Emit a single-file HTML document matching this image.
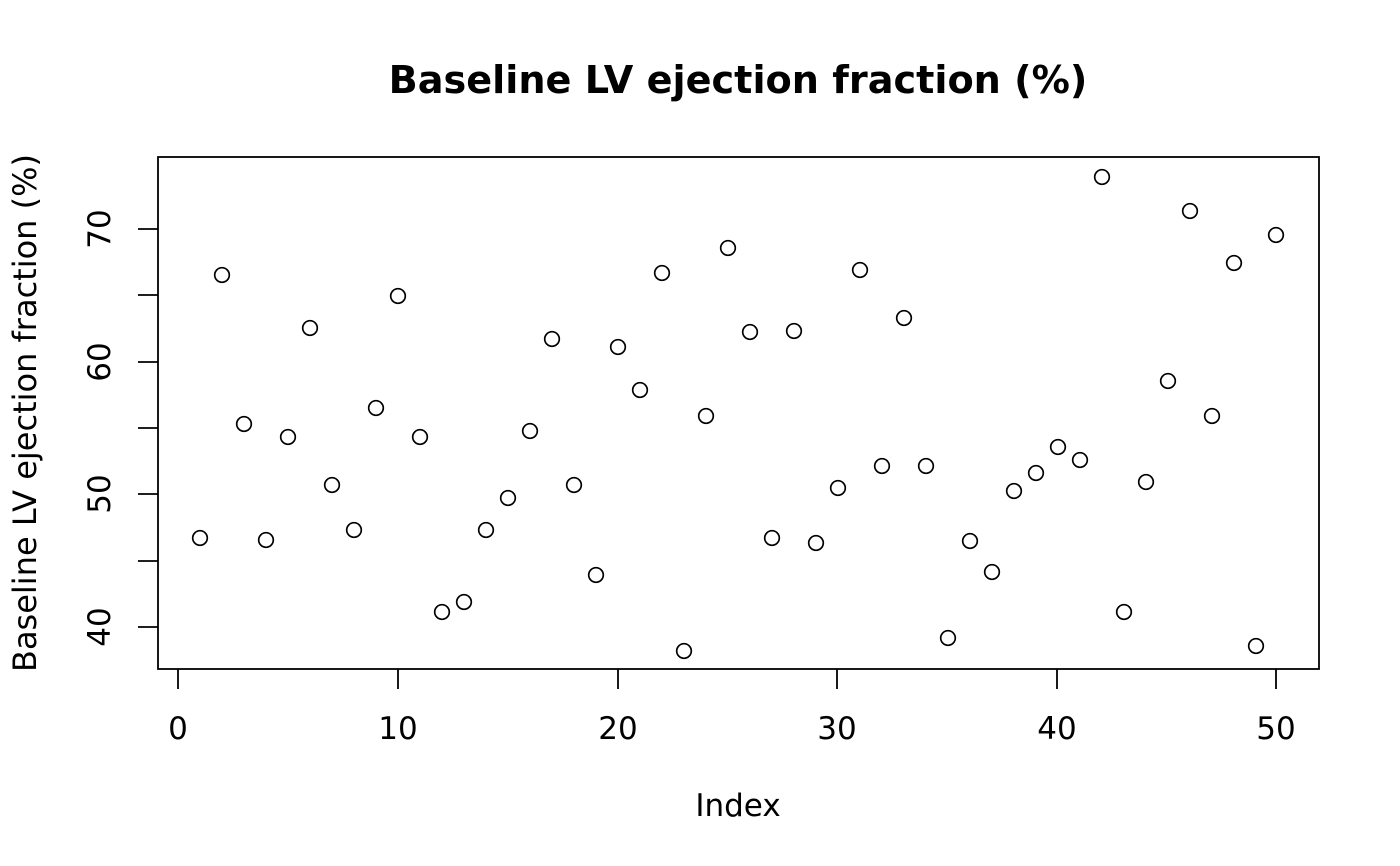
<!DOCTYPE html>
<html><head><meta charset="utf-8"><style>body{margin:0;background:#fff}svg{display:block}</style></head><body>
<svg width="1400" height="866" xmlns="http://www.w3.org/2000/svg" font-family="DejaVu Sans, Liberation Sans, sans-serif">
<rect width="1400" height="866" fill="#fff"/>
<text x="738" y="93" font-size="38.2" font-weight="bold" text-anchor="middle">Baseline LV ejection fraction (%)</text>
<rect x="158" y="157" width="1161" height="512" fill="none" stroke="#000" stroke-width="1.8"/>
<g stroke="#000" stroke-width="1.8">
<line x1="178" y1="669" x2="178" y2="689"/><line x1="398" y1="669" x2="398" y2="689"/><line x1="618" y1="669" x2="618" y2="689"/><line x1="837" y1="669" x2="837" y2="689"/><line x1="1057" y1="669" x2="1057" y2="689"/><line x1="1276" y1="669" x2="1276" y2="689"/>
<line x1="138" y1="627" x2="158" y2="627"/><line x1="138" y1="561" x2="158" y2="561"/><line x1="138" y1="494" x2="158" y2="494"/><line x1="138" y1="428" x2="158" y2="428"/><line x1="138" y1="362" x2="158" y2="362"/><line x1="138" y1="295" x2="158" y2="295"/><line x1="138" y1="229" x2="158" y2="229"/>
</g>
<g font-size="31" text-anchor="middle">
<text x="178" y="739">0</text><text x="398" y="739">10</text><text x="618" y="739">20</text><text x="837" y="739">30</text><text x="1057" y="739">40</text><text x="1276" y="739">50</text>
<text transform="translate(110,627) rotate(-90)">40</text>
<text transform="translate(110,494) rotate(-90)">50</text>
<text transform="translate(110,362) rotate(-90)">60</text>
<text transform="translate(110,229) rotate(-90)">70</text>
<text x="738" y="816">Index</text>
<text transform="translate(36,413) rotate(-90)" font-size="32">Baseline LV ejection fraction (%)</text>
</g>
<g fill="none" stroke="#000" stroke-width="1.7">
<circle cx="200" cy="538" r="7.3"/><circle cx="222" cy="275" r="7.3"/><circle cx="244" cy="424" r="7.3"/><circle cx="266" cy="540" r="7.3"/><circle cx="288" cy="437" r="7.3"/>
<circle cx="310" cy="328" r="7.3"/><circle cx="332" cy="485" r="7.3"/><circle cx="354" cy="530" r="7.3"/><circle cx="376" cy="408" r="7.3"/><circle cx="398" cy="296" r="7.3"/>
<circle cx="420" cy="437" r="7.3"/><circle cx="442" cy="612" r="7.3"/><circle cx="464" cy="602" r="7.3"/><circle cx="486" cy="530" r="7.3"/><circle cx="508" cy="498" r="7.3"/>
<circle cx="530" cy="431" r="7.3"/><circle cx="552" cy="339" r="7.3"/><circle cx="574" cy="485" r="7.3"/><circle cx="596" cy="575" r="7.3"/><circle cx="618" cy="347" r="7.3"/>
<circle cx="640" cy="390" r="7.3"/><circle cx="662" cy="273" r="7.3"/><circle cx="684" cy="651" r="7.3"/><circle cx="706" cy="416" r="7.3"/><circle cx="728" cy="248" r="7.3"/>
<circle cx="750" cy="332" r="7.3"/><circle cx="772" cy="538" r="7.3"/><circle cx="794" cy="331" r="7.3"/><circle cx="816" cy="543" r="7.3"/><circle cx="838" cy="488" r="7.3"/>
<circle cx="860" cy="270" r="7.3"/><circle cx="882" cy="466" r="7.3"/><circle cx="904" cy="318" r="7.3"/><circle cx="926" cy="466" r="7.3"/><circle cx="948" cy="638" r="7.3"/>
<circle cx="970" cy="541" r="7.3"/><circle cx="992" cy="572" r="7.3"/><circle cx="1014" cy="491" r="7.3"/><circle cx="1036" cy="473" r="7.3"/><circle cx="1058" cy="447" r="7.3"/>
<circle cx="1080" cy="460" r="7.3"/><circle cx="1102" cy="177" r="7.3"/><circle cx="1124" cy="612" r="7.3"/><circle cx="1146" cy="482" r="7.3"/><circle cx="1168" cy="381" r="7.3"/>
<circle cx="1190" cy="211" r="7.3"/><circle cx="1212" cy="416" r="7.3"/><circle cx="1234" cy="263" r="7.3"/><circle cx="1256" cy="646" r="7.3"/><circle cx="1276" cy="235" r="7.3"/>
</g>
</svg>
</body></html>
